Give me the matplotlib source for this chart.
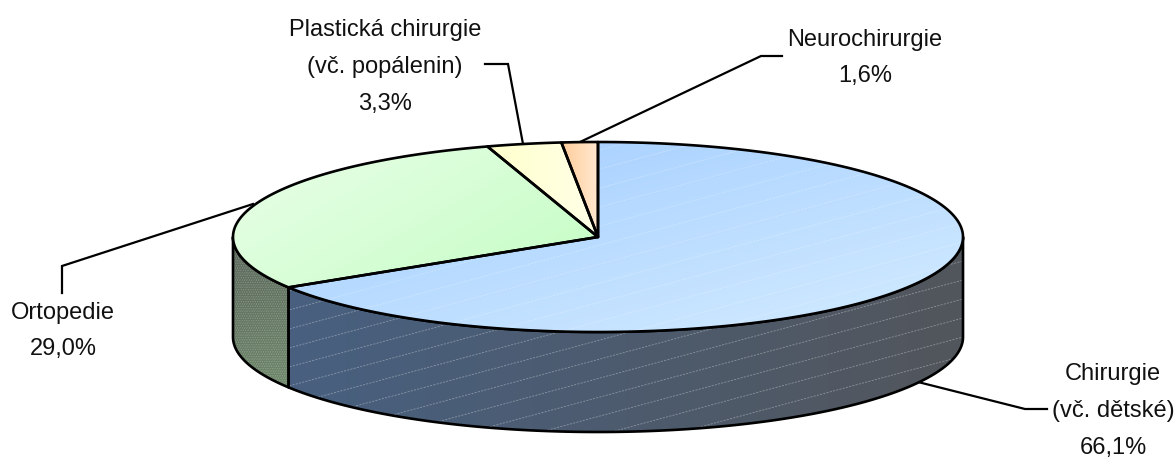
import numpy as np
import matplotlib
matplotlib.use("Agg")
import matplotlib.pyplot as plt
from matplotlib.patches import Polygon
from matplotlib.collections import LineCollection
from matplotlib.colors import LinearSegmentedColormap

plt.rcParams['font.family'] = ['Liberation Sans', 'DejaVu Sans']

categories = ["Chirurgie\n(vč. dětské)", "Ortopedie", "Plastická chirurgie\n(vč. popálenin)", "Neurochirurgie"]
values = [66.1, 29.0, 3.3, 1.6]

# top colours (start, end of the gradient) and side colours
top_colors = [("#a0ccff", "#d4ecff"), ("#eaffe8", "#c4fdc4"), ("#ffffcc", "#ffffe8"), ("#ffcc99", "#ffe8d0")]
side_colors = [("#486080", "#52565c"), ("#586458", "#6c8668")]
# gradient direction in pixels
grad_dirs = [(0.27, 1), (0.5, 0.87), (1, 0), (1, 0)]

label_pos = [(1113, 411), (63, 331), (385, 67), (865, 58)]
leader_lines = [
    [(918, 382), (1025, 409), (1047, 409)],
    [(253, 204), (62, 266), (62, 293)],
    [(523, 144), (508, 64), (485, 64)],
    [(580, 142), (761, 56), (782, 56)],
]

cx, cy = 598, 237
rx, ry = 365, 95
depth = 100
W, H = 1176, 457


def arc(a0, a1, dy=0):
    t = np.radians(np.linspace(a0, a1, 200))
    return np.column_stack([cx + rx * np.sin(t), cy - ry * np.cos(t) + dy])


def gradient_fill(ax, pts, c0, c1, direction, z):
    # paint a gradient over the bounding box, clipped by the polygon
    x0, y0 = pts.min(axis=0)
    x1, y1 = pts.max(axis=0)
    xx, yy = np.meshgrid(np.linspace(x0, x1, 256), np.linspace(y0, y1, 256))
    g = (xx - x0) * direction[0] + (yy - y0) * direction[1]
    g = (g - g.min()) / (g.max() - g.min())
    cmap = LinearSegmentedColormap.from_list("g", [c0, c1])
    im = ax.imshow(g, cmap=cmap, extent=(x0, x1, y1, y0), aspect='auto', zorder=z, interpolation='bilinear')
    poly = Polygon(pts, closed=True, transform=ax.transData, fc='none', ec='none')
    ax.add_patch(poly)
    im.set_clip_path(poly)
    return poly


def hatch_lines(ax, clip, slope, step, color, alpha, z, lw=0.6):
    # the faint dashed streaks of the original fill
    offs = np.arange(-600, 1000, step)
    segs = [[(0, o), (W, o + slope * W)] for o in offs]
    lc = LineCollection(segs, colors=color, linewidths=lw, alpha=alpha, linestyles=(0, (2.5, 1.5)), zorder=z)
    ax.add_collection(lc)
    lc.set_clip_path(clip)


fig = plt.figure(figsize=(W / 100, H / 100), dpi=100)
ax = fig.add_axes([0, 0, 1, 1])

edges = np.cumsum([0] + values) / sum(values) * 360

# side wall, only the front half of the ellipse can be seen
for i in range(2):
    a0 = max(edges[i], 90)
    a1 = min(edges[i + 1], 270)
    pts = np.vstack([arc(a0, a1), arc(a1, a0, depth)])
    clip = gradient_fill(ax, pts, side_colors[i][0], side_colors[i][1], (1, 0) if i == 0 else (0.4, 1), 1)
    if i == 0:
        hatch_lines(ax, clip, -0.27, 19, "white", 0.35, 2)
    else:
        hatch_lines(ax, clip, -1.7, 4, "white", 0.25, 2, 0.5)
        hatch_lines(ax, clip, 1.7, 4, "white", 0.12, 2, 0.5)
    ax.add_patch(Polygon(pts, closed=True, fc='none', ec='black', lw=1.9, zorder=3, joinstyle='round'))

# top face
for i, cat in enumerate(categories):
    pts = np.vstack([[(cx, cy)], arc(edges[i], edges[i + 1])])
    clip = gradient_fill(ax, pts, top_colors[i][0], top_colors[i][1], grad_dirs[i], 4)
    if i == 0:
        hatch_lines(ax, clip, -0.27, 19, "white", 0.3, 5)
    ax.add_patch(Polygon(pts, closed=True, fc='none', ec='black', lw=1.9, zorder=6, joinstyle='round'))

for cat, val, (lx, ly), line in zip(categories, values, label_pos, leader_lines):
    txt = cat + "\n" + f"{val:.1f}".replace(".", ",") + "%"
    ax.text(lx, ly, txt, ha='center', va='center', fontsize=17, color='#111111', linespacing=1.88, zorder=8)
    xs, ys = zip(*line)
    ax.plot(xs, ys, color='black', lw=1.6, zorder=0.5, solid_joinstyle='miter')

ax.set_xlim(0, W)
ax.set_ylim(H, 0)
ax.axis('off')
fig.savefig("out.png", dpi=100)
